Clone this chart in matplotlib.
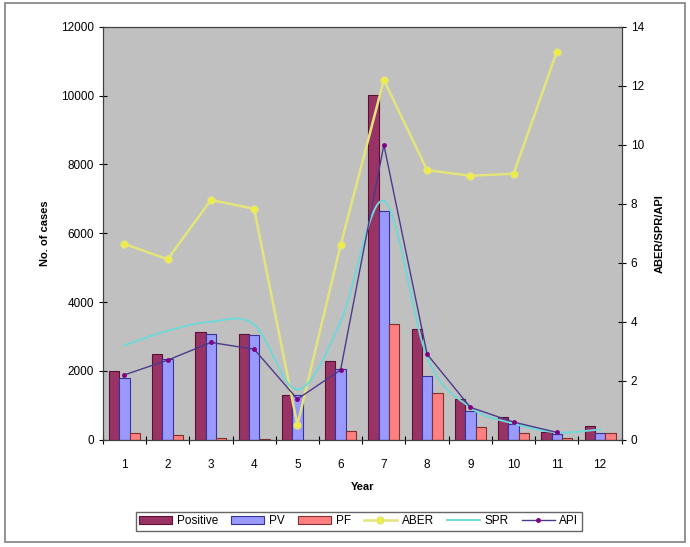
import numpy as np
import matplotlib.pyplot as plt
from matplotlib.patches import Rectangle

plt.rcParams['font.family'] = ['Liberation Sans', 'DejaVu Sans']

# data
years = np.arange(1, 13)
positive = [2010, 2500, 3120, 3060, 1290, 2300, 10030, 3230, 1180, 660, 240, 405]
pv = [1800, 2350, 3060, 3050, 1300, 2060, 6660, 1860, 825, 465, 170, 195]
pf = [195, 125, 50, 30, 5, 250, 3370, 1350, 360, 195, 60, 195]
aber = [6.64, 6.12, 8.13, 7.83, 0.5, 6.6, 12.2, 9.14, 8.95, 9.02, 13.15, np.nan]
spr = [3.2, 3.7, 4.0, 3.9, 1.7, 4.0, 8.1, 2.8, 1.1, 0.55, 0.25, 0.35]
api = [2.2, 2.7, 3.3, 3.07, 1.38, 2.37, 10.0, 2.9, 1.1, 0.6, 0.25, np.nan]


def smooth(x, y, n=20):
    # catmull-rom curve through the points (like excel's smoothed line)
    x = np.asarray(x, float)
    y = np.asarray(y, float)
    px = np.concatenate([[2 * x[0] - x[1]], x, [2 * x[-1] - x[-2]]])
    py = np.concatenate([[2 * y[0] - y[1]], y, [2 * y[-1] - y[-2]]])
    xs, ys = [], []
    t = np.linspace(0, 1, n)
    for i in range(1, len(px) - 2):
        for p, out in ((px, xs), (py, ys)):
            p0, p1, p2, p3 = p[i - 1], p[i], p[i + 1], p[i + 2]
            out.extend(0.5 * ((2 * p1) + (-p0 + p2) * t
                              + (2 * p0 - 5 * p1 + 4 * p2 - p3) * t ** 2
                              + (-p0 + 3 * p1 - 3 * p2 + p3) * t ** 3))
    return np.array(xs), np.array(ys)


fig = plt.figure(figsize=(6.9, 5.47), dpi=100)
ax = fig.add_axes([0.149, 0.196, 0.752, 0.755])
ax.set_facecolor('#C0C0C0')
ax2 = ax.twinx()

w = 0.24
b1 = ax.bar(years - w, positive, w, color='#993366', edgecolor='#5a1030', lw=0.8, label='Positive')
b2 = ax.bar(years, pv, w, color='#9999FF', edgecolor='#333399', lw=0.8, label='PV')
b3 = ax.bar(years + w, pf, w, color='#FF8080', edgecolor='#803030', lw=0.8, label='PF')

l1, = ax2.plot(years, aber, color='#E4E47C', lw=1.8, marker='o', ms=5,
               mfc='#EEEE40', mec='#E4E47C', label='ABER')
sx, sy = smooth(years, spr)
ax2.plot(sx, sy, color='#70D8D8', lw=1.4)
l2, = ax2.plot([], [], color='#70D8D8', lw=1.4, label='SPR')
l3, = ax2.plot(years, api, color='#4B3A8C', lw=1.0, marker='o', ms=2.5,
               mfc='#800080', mec='#800080', label='API')

ax.set_xlim(0.5, 12.5)
ax.set_ylim(0, 12000)
ax2.set_ylim(0, 14)
ax.set_yticks(range(0, 12001, 2000))
ax2.set_yticks(range(0, 15, 2))
ax.set_xticks(years)
ax.set_xticks(np.arange(0.5, 12.6, 1), minor=True)
ax.tick_params(axis='x', which='major', length=0, labelsize=8.5, pad=14)
ax.tick_params(axis='x', which='minor', direction='inout', length=6, width=0.8)
ax.tick_params(axis='y', direction='inout', length=6, width=0.8, labelsize=8.5)
ax2.tick_params(axis='y', direction='inout', length=6, width=0.8, labelsize=8.5)
for a in (ax, ax2):
    for s in a.spines.values():
        s.set_color('#404040')
        s.set_linewidth(0.8)

ax.set_xlabel('Year', fontsize=8, fontweight='bold', labelpad=8)
ax.set_ylabel('No. of cases', fontsize=8, fontweight='bold', labelpad=8)
ax2.set_ylabel('ABER/SPR/API', fontsize=8, fontweight='bold', labelpad=8)

fig.legend([b1, b2, b3, l1, l2, l3], ['Positive', 'PV', 'PF', 'ABER', 'SPR', 'API'],
           loc='center', bbox_to_anchor=(0.52, 0.047), ncol=6, fontsize=8.5,
           frameon=True, fancybox=False, edgecolor='#404040', handlelength=2.8,
           columnspacing=1.1, handletextpad=0.4, borderpad=0.3)

fig.patches.append(Rectangle((0.007, 0.01), 0.986, 0.984, transform=fig.transFigure,
                             fill=False, edgecolor='#808080', lw=1.2))

fig.savefig('out.png', dpi=100)
